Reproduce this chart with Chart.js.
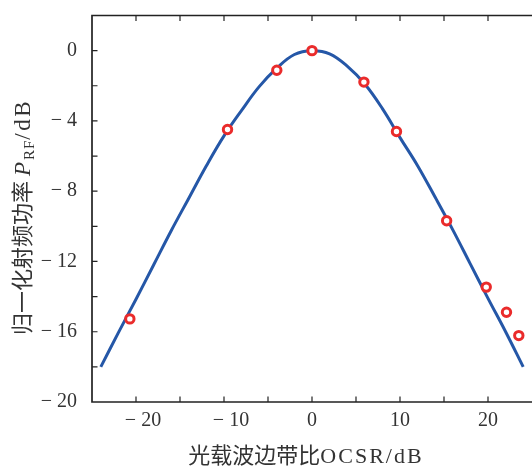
<!DOCTYPE html>
<html>
<head>
<meta charset="utf-8">
<script src="https://cdn.jsdelivr.net/npm/chart.js@4.4.1/dist/chart.umd.min.js"></script>
<style>
  html, body { margin: 0; padding: 0; background: #fff; overflow: hidden; }
  #wrap { width: 532px; height: 466px; }
</style>
</head>
<body>
<div id="wrap"><canvas id="c" width="532" height="466"></canvas></div>
<script>
// simulated curve (solid line)
const curveX = [-24, -22, -20, -18, -16, -14, -12, -10, -8, -6, -4, -2, 0, 2, 4, 6, 8, 10, 12, 14, 16, 18, 20, 22, 24];
const curveY = [-18.0, -16.05, -14.15, -12.2, -10.25, -8.4, -6.55, -4.85, -3.4, -2.05, -1.0, -0.22, 0, -0.18, -0.88, -1.9, -3.3, -4.95, -6.55, -8.35, -10.2, -12.15, -14.1, -16.0, -18.0];

// measured points (circles)
const measX = [-20.7, -9.6, -4.0, 0, 5.9, 9.6, 15.3, 19.8, 22.1, 23.5];
const measY = [-15.27, -4.49, -1.12, 0, -1.79, -4.6, -9.68, -13.46, -14.89, -16.22];

const xTickValues = [-20, -10, 0, 10, 20];
const yTickValues = [0, -4, -8, -12, -16, -20];

const serif = '"Liberation Serif", "DejaVu Serif", serif';
const cjk = '"Noto Sans CJK SC", sans-serif';
const axisColor = '#222';

function fmt(v) {
    return v < 0 ? '\u2212 ' + Math.abs(v) : String(v);
}

// draw a run of text pieces (different fonts) centred on cx
function drawParts(ctx, parts, cx, y) {
    let w = 0;
    parts.forEach(p => {
        ctx.font = p.f;
        ctx.letterSpacing = (p.ls || 0) + 'px';
        w += ctx.measureText(p.t).width;
    });
    let x = cx - w / 2;
    parts.forEach(p => {
        ctx.font = p.f;
        ctx.letterSpacing = (p.ls || 0) + 'px';
        ctx.fillText(p.t, x, y + (p.dy || 0));
        x += ctx.measureText(p.t).width;
    });
    ctx.letterSpacing = '0px';
}

const framePlugin = {
    id: 'frame',
    afterDraw(chart) {
        const ctx = chart.ctx;
        const a = chart.chartArea;
        const xs = chart.scales.x, ys = chart.scales.y;
        ctx.save();
        ctx.strokeStyle = axisColor;
        ctx.lineWidth = 1.7;
        // left, bottom, top (right edge falls just outside the picture)
        ctx.beginPath();
        ctx.moveTo(a.right + 2, a.top);
        ctx.lineTo(a.left, a.top);
        ctx.lineTo(a.left, a.bottom);
        ctx.lineTo(a.right + 2, a.bottom);
        ctx.stroke();

        // inward ticks
        ctx.lineWidth = 1.2;
        ctx.beginPath();
        for (let v = -20; v <= 20; v += 5) {
            const px = xs.getPixelForValue(v);
            ctx.moveTo(px, a.bottom); ctx.lineTo(px, a.bottom - 5.5);
            ctx.moveTo(px, a.top); ctx.lineTo(px, a.top + 5.5);
        }
        for (let v = -18; v <= 0; v += 2) {
            const py = ys.getPixelForValue(v);
            ctx.moveTo(a.left, py); ctx.lineTo(a.left + 5.5, py);
        }
        ctx.stroke();

        // x tick labels
        ctx.fillStyle = '#333';
        ctx.font = '20px ' + serif;
        ctx.textAlign = 'center';
        ctx.textBaseline = 'middle';
        xTickValues.forEach(v => {
            const px = xs.getPixelForValue(v) + (v < 0 ? 7 : 0);
            ctx.fillText(fmt(v), px, 421);
        });

        ctx.textAlign = 'left';
        ctx.textBaseline = 'alphabetic';

        // x title
        drawParts(ctx, [
            { t: '光载波边带比', f: '22px ' + cjk },
            { t: 'OCSR/dB', f: '22px ' + serif, ls: 2 }
        ], 306, 463);

        // y title (rotated)
        ctx.translate(30, 217);
        ctx.rotate(-Math.PI / 2);
        drawParts(ctx, [
            { t: '归一化射频功率 ', f: '22px ' + cjk },
            { t: 'P', f: 'italic 23px ' + serif, ls: 2 },
            { t: 'RF', f: '15px ' + serif, dy: 4, ls: 1 },
            { t: '/dB', f: '23px ' + serif, ls: 2.5 }
        ], 0, 0);
        ctx.restore();
    }
};

new Chart(document.getElementById('c').getContext('2d'), {
    type: 'line',
    data: {
        datasets: [
            {
                label: 'sim',
                data: curveX.map((x, i) => ({ x: x, y: curveY[i] })),
                borderColor: '#2557a7',
                borderWidth: 3,
                pointRadius: 0,
                tension: 0.4,
                fill: false,
                order: 2
            },
            {
                label: 'meas',
                data: measX.map((x, i) => ({ x: x, y: measY[i] })),
                showLine: false,
                pointRadius: 4.2,
                pointBorderWidth: 3,
                pointBorderColor: '#ea2b2b',
                pointBackgroundColor: '#fff',
                clip: false,
                order: 1
            }
        ]
    },
    options: {
        responsive: false,
        animation: false,
        devicePixelRatio: 1,
        layout: { autoPadding: false, padding: { top: 15.5, right: -1, left: 0, bottom: 0 } },
        plugins: { legend: { display: false }, tooltip: { enabled: false } },
        scales: {
            x: {
                type: 'linear',
                min: -25, max: 25,
                grid: { display: false },
                border: { display: false },
                ticks: { display: false },
                afterBuildTicks: s => { s.ticks = xTickValues.map(v => ({ value: v })); },
                afterFit: s => { s.height = 64; s.paddingLeft = 0; s.paddingRight = 0; }
            },
            y: {
                type: 'linear',
                min: -20, max: 2,
                grid: { display: false },
                border: { display: false },
                ticks: {
                    color: '#333',
                    font: { family: serif, size: 20 },
                    padding: 7,
                    callback: v => fmt(v)
                },
                afterBuildTicks: s => { s.ticks = yTickValues.map(v => ({ value: v })); },
                afterFit: s => { s.width = 92; s.paddingTop = 0; s.paddingBottom = 0; }
            }
        }
    },
    plugins: [framePlugin]
});
</script>
</body>
</html>
